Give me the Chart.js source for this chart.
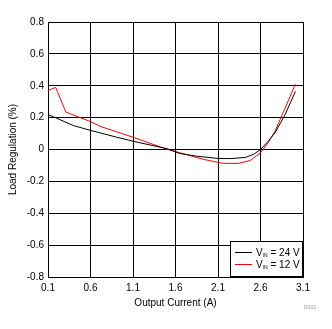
<!DOCTYPE html>
<html lang="en">
<head>
<meta charset="UTF-8" />
<title>Load Regulation</title>
<script src="https://cdn.jsdelivr.net/npm/chart.js"></script>
<style>
  html, body { margin: 0; padding: 0; background: #fff; }
  #wrap { width: 332px; height: 329px; position: relative; }
</style>
</head>
<body>
<div id="wrap"><canvas id="regChart" width="332" height="329"></canvas></div>
<script>
// values
const current24 = [0.1, 0.4, 0.6, 0.91, 1.1, 1.5, 1.65, 1.85, 2.1, 2.25, 2.42, 2.52, 2.6, 2.68, 2.77, 2.89, 3.01];
const reg24 = [0.22, 0.15, 0.12, 0.077, 0.052, 0.005, -0.025, -0.042, -0.056, -0.057, -0.05, -0.03, 0, 0.045, 0.104, 0.219, 0.364];

const current12 = [0.1, 0.19, 0.31, 0.6, 0.71, 1.1, 1.48, 1.65, 1.93, 2.16, 2.34, 2.48, 2.6, 2.68, 2.77, 2.89, 3.01];
const reg12 = [0.37, 0.39, 0.235, 0.175, 0.146, 0.077, 0.005, -0.02, -0.062, -0.087, -0.087, -0.069, -0.02, 0.035, 0.114, 0.26, 0.41];

const xTicks = [0.1, 0.6, 1.1, 1.6, 2.1, 2.6, 3.1];
const yTicks = [-0.8, -0.6, -0.4, -0.2, 0, 0.2, 0.4, 0.6, 0.8];
const seriesNames = ['24 V', '12 V'];
const seriesColors = ['#000000', '#ff0000'];

const FONT = 'Arial, "Liberation Sans", sans-serif';

function toPoints(xs, ys) {
    return xs.map((x, i) => ({ x: x, y: ys[i] }));
}

// legend box drawn inside the plot, with the IN subscript
const legendBox = {
    id: 'legendBox',
    afterDraw(chart) {
        const ctx = chart.ctx;
        const area = chart.chartArea;
        const w = 73, h = 36;
        const x0 = area.right - w, y0 = area.bottom - h;
        ctx.save();
        ctx.fillStyle = '#fff';
        ctx.fillRect(x0, y0, w, h);
        ctx.strokeStyle = '#000';
        ctx.lineWidth = 1;
        ctx.strokeRect(x0 + 0.5, y0 + 0.5, w - 1, h - 1);
        seriesNames.forEach((name, i) => {
            const y = y0 + 11 + i * 12;
            ctx.strokeStyle = seriesColors[i];
            ctx.beginPath();
            ctx.moveTo(x0 + 5, y + 0.5);
            ctx.lineTo(x0 + 22, y + 0.5);
            ctx.stroke();
            ctx.fillStyle = '#000';
            ctx.textBaseline = 'alphabetic';
            ctx.textAlign = 'left';
            let tx = x0 + 26;
            ctx.font = '10px ' + FONT;
            ctx.fillText('V', tx, y + 4);
            tx += ctx.measureText('V').width;
            ctx.font = '5px ' + FONT;
            ctx.fillText('IN', tx, y + 5);
            tx += ctx.measureText('IN').width;
            ctx.font = '10px ' + FONT;
            ctx.fillText(' = ' + name, tx, y + 4);
        });
        ctx.fillStyle = '#999';
        ctx.font = '5px ' + FONT;
        ctx.fillText('D002', 304, 309);
        ctx.restore();
    }
};

new Chart(document.getElementById('regChart'), {
    type: 'line',
    data: {
        datasets: [
            {
                label: 'VIN = 24 V',
                data: toPoints(current24, reg24),
                borderColor: seriesColors[0],
                borderWidth: 1,
                pointRadius: 0,
                tension: 0
            },
            {
                label: 'VIN = 12 V',
                data: toPoints(current12, reg12),
                borderColor: seriesColors[1],
                borderWidth: 1,
                pointRadius: 0,
                tension: 0
            }
        ]
    },
    options: {
        responsive: false,
        animation: false,
        layout: { padding: { left: 3, top: 22, right: 29, bottom: 20 } },
        plugins: {
            legend: { display: false },
            tooltip: { enabled: false }
        },
        scales: {
            x: {
                type: 'linear',
                min: 0.1,
                max: 3.1,
                afterBuildTicks: (axis) => { axis.ticks = xTicks.map(v => ({ value: v })); },
                afterFit: (axis) => { axis.height = 32; },
                ticks: {
                    color: '#000',
                    font: { family: FONT, size: 10 },
                    padding: 5,
                    maxRotation: 0,
                    callback: (v) => String(v)
                },
                grid: { color: '#000', lineWidth: 1, drawTicks: false },
                border: { color: '#000', width: 1 },
                title: {
                    display: true,
                    text: 'Output Current (A)',
                    color: '#000',
                    font: { family: FONT, size: 10 },
                    padding: { top: 0, bottom: 0 }
                }
            },
            y: {
                min: -0.8,
                max: 0.8,
                afterBuildTicks: (axis) => { axis.ticks = yTicks.map(v => ({ value: v })); },
                afterFit: (axis) => { axis.width = 45; },
                ticks: {
                    color: '#000',
                    font: { family: FONT, size: 10 },
                    padding: 4,
                    callback: (v) => String(Math.round(v * 10) / 10)
                },
                grid: { color: '#000', lineWidth: 1, drawTicks: false },
                border: { color: '#000', width: 1 },
                title: {
                    display: true,
                    text: 'Load Regulation (%)',
                    color: '#000',
                    font: { family: FONT, size: 10 },
                    padding: { bottom: 0 }
                }
            }
        }
    },
    plugins: [legendBox]
});
</script>
</body>
</html>
